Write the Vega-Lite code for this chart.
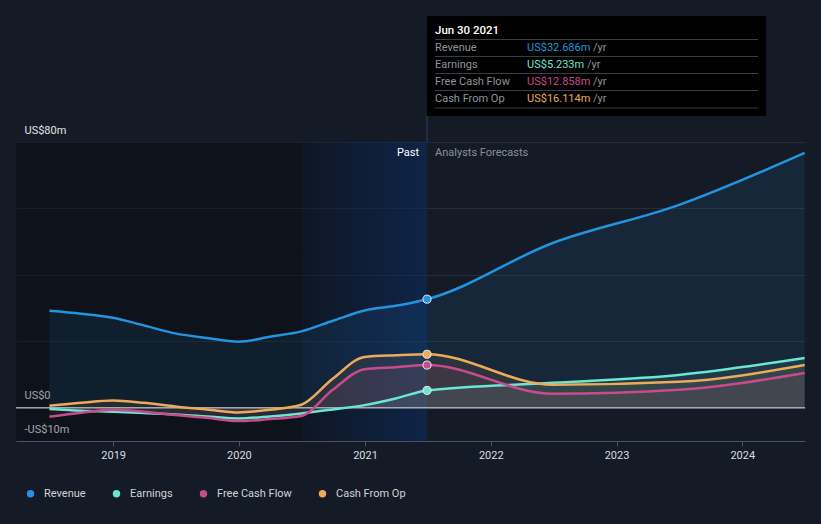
{
  "$schema": "https://vega.github.io/schema/vega-lite/v6.json",
  "width": 789,
  "height": 299,
  "autosize": {"type": "none"},
  "padding": {"left": 16, "top": 142, "right": 16, "bottom": 83},
  "background": "#151b26",
  "config": {
    "view": {"stroke": null},
    "font": "Roboto",
    "axis": {"title": null},
    "axisX": {
      "labelColor": "#d9dce0", "labelFontSize": 11, "tickColor": "#4a5160", "domainColor": "#4a5160",
      "tickSize": 5, "labelPadding": 3, "grid": false, "format": "%Y", "tickCount": {"interval": "year", "step": 1}
    },
    "axisY": {
      "domain": false, "ticks": false, "tickSize": 0, "grid": true, "gridColor": "#262d39", "gridWidth": 1,
      "labelAlign": "left", "labelBaseline": "alphabetic", "labelPadding": -8, "labelOffset": -9,
      "labelColor": "#e2e4e8", "labelFontSize": 11
    }
  },
  "datasets": {
    "fin": [
      {"date": "2018-06-30", "series": "Revenue", "value": 29.2},
      {"date": "2018-09-30", "series": "Revenue", "value": 28.3},
      {"date": "2018-12-31", "series": "Revenue", "value": 27.1},
      {"date": "2019-03-31", "series": "Revenue", "value": 24.8},
      {"date": "2019-06-30", "series": "Revenue", "value": 22.4},
      {"date": "2019-09-30", "series": "Revenue", "value": 21.0},
      {"date": "2019-12-31", "series": "Revenue", "value": 19.9},
      {"date": "2020-03-31", "series": "Revenue", "value": 21.4},
      {"date": "2020-06-30", "series": "Revenue", "value": 23.0},
      {"date": "2020-09-30", "series": "Revenue", "value": 26.2},
      {"date": "2020-12-31", "series": "Revenue", "value": 29.3},
      {"date": "2021-03-31", "series": "Revenue", "value": 30.7},
      {"date": "2021-06-30", "series": "Revenue", "value": 32.686},
      {"date": "2022-06-30", "series": "Revenue", "value": 49.6},
      {"date": "2023-06-30", "series": "Revenue", "value": 61.0},
      {"date": "2024-06-30", "series": "Revenue", "value": 76.7},
      {"date": "2018-06-30", "series": "Earnings", "value": -0.4},
      {"date": "2018-09-30", "series": "Earnings", "value": -0.9},
      {"date": "2018-12-31", "series": "Earnings", "value": -1.2},
      {"date": "2019-03-31", "series": "Earnings", "value": -1.6},
      {"date": "2019-06-30", "series": "Earnings", "value": -2.0},
      {"date": "2019-09-30", "series": "Earnings", "value": -2.6},
      {"date": "2019-12-31", "series": "Earnings", "value": -3.2},
      {"date": "2020-03-31", "series": "Earnings", "value": -2.6},
      {"date": "2020-06-30", "series": "Earnings", "value": -1.7},
      {"date": "2020-09-30", "series": "Earnings", "value": -0.5},
      {"date": "2020-12-31", "series": "Earnings", "value": 0.8},
      {"date": "2021-03-31", "series": "Earnings", "value": 2.8},
      {"date": "2021-06-30", "series": "Earnings", "value": 5.233},
      {"date": "2022-06-30", "series": "Earnings", "value": 7.5},
      {"date": "2023-06-30", "series": "Earnings", "value": 9.9},
      {"date": "2024-06-30", "series": "Earnings", "value": 15.0},
      {"date": "2018-06-30", "series": "Free Cash Flow", "value": -2.7},
      {"date": "2018-09-30", "series": "Free Cash Flow", "value": -1.5},
      {"date": "2018-12-31", "series": "Free Cash Flow", "value": -0.6},
      {"date": "2019-03-31", "series": "Free Cash Flow", "value": -1.2},
      {"date": "2019-06-30", "series": "Free Cash Flow", "value": -2.2},
      {"date": "2019-09-30", "series": "Free Cash Flow", "value": -3.0},
      {"date": "2019-12-31", "series": "Free Cash Flow", "value": -4.0},
      {"date": "2020-03-31", "series": "Free Cash Flow", "value": -3.4},
      {"date": "2020-06-30", "series": "Free Cash Flow", "value": -2.5},
      {"date": "2020-09-30", "series": "Free Cash Flow", "value": 5.5},
      {"date": "2020-12-31", "series": "Free Cash Flow", "value": 11.6},
      {"date": "2021-03-31", "series": "Free Cash Flow", "value": 12.2},
      {"date": "2021-06-30", "series": "Free Cash Flow", "value": 12.858},
      {"date": "2022-06-30", "series": "Free Cash Flow", "value": 4.2},
      {"date": "2023-06-30", "series": "Free Cash Flow", "value": 5.4},
      {"date": "2024-06-30", "series": "Free Cash Flow", "value": 10.5},
      {"date": "2018-06-30", "series": "Cash From Op", "value": 0.6},
      {"date": "2018-09-30", "series": "Cash From Op", "value": 1.5},
      {"date": "2018-12-31", "series": "Cash From Op", "value": 2.2},
      {"date": "2019-03-31", "series": "Cash From Op", "value": 1.5},
      {"date": "2019-06-30", "series": "Cash From Op", "value": 0.4},
      {"date": "2019-09-30", "series": "Cash From Op", "value": -0.5},
      {"date": "2019-12-31", "series": "Cash From Op", "value": -1.4},
      {"date": "2020-03-31", "series": "Cash From Op", "value": -0.6},
      {"date": "2020-06-30", "series": "Cash From Op", "value": 0.9},
      {"date": "2020-09-30", "series": "Cash From Op", "value": 8.8},
      {"date": "2020-12-31", "series": "Cash From Op", "value": 15.3},
      {"date": "2021-03-31", "series": "Cash From Op", "value": 15.8},
      {"date": "2021-06-30", "series": "Cash From Op", "value": 16.114},
      {"date": "2022-06-30", "series": "Cash From Op", "value": 6.9},
      {"date": "2023-06-30", "series": "Cash From Op", "value": 7.8},
      {"date": "2024-06-30", "series": "Cash From Op", "value": 12.9}
    ],
    "tip": [
      {"series": "Revenue", "value": "US$32.686m"},
      {"series": "Earnings", "value": "US$5.233m"},
      {"series": "Free Cash Flow", "value": "US$12.858m"},
      {"series": "Cash From Op", "value": "US$16.114m"}
    ]
  },
  "layer": [
    {
      "layer": [
        {
          "data": {"values": [{}]},
          "mark": {"type": "rect", "color": "#000000", "opacity": 0.3},
          "encoding": {
            "x": {"datum": {"year": 2018, "month": 3, "date": 25}, "type": "temporal"},
            "x2": {"datum": {"year": 2021, "month": 6, "date": 30}},
            "y": {"datum": 80, "type": "quantitative"},
            "y2": {"datum": -10}
          }
        },
        {
          "data": {"values": [{}]},
          "mark": {
            "type": "rect",
            "color": {"gradient": "linear", "x1": 0, "x2": 1, "y1": 0, "y2": 0,
              "stops": [{"offset": 0, "color": "rgba(20,70,150,0.08)"}, {"offset": 1, "color": "rgba(15,65,145,0.38)"}]}
          },
          "encoding": {
            "x": {"datum": {"year": 2020, "month": 6, "date": 30}, "type": "temporal"},
            "x2": {"datum": {"year": 2021, "month": 6, "date": 30}},
            "y": {"datum": 80, "type": "quantitative"},
            "y2": {"datum": -10}
          }
        },
        {
          "data": {"name": "fin"},
          "mark": {"type": "area", "interpolate": "monotone", "fillOpacity": 0.1},
          "encoding": {
            "x": {"field": "date", "type": "temporal"},
            "y": {"field": "value", "type": "quantitative", "stack": null},
            "y2": {"datum": 0},
            "color": {"field": "series", "type": "nominal"}
          }
        },
        {
          "data": {"values": [{}]},
          "mark": {"type": "rule", "color": "#c4c7cc", "strokeWidth": 1.5, "opacity": 0.8},
          "encoding": {"y": {"datum": 0, "type": "quantitative"}}
        },
        {
          "data": {"name": "fin"},
          "mark": {"type": "line", "interpolate": "monotone", "strokeWidth": 2.5},
          "encoding": {
            "x": {"field": "date", "type": "temporal",
              "scale": {"domain": [{"year": 2018, "month": 3, "date": 25}, {"year": 2024, "month": 7, "date": 1}]}},
            "y": {"field": "value", "type": "quantitative",
              "scale": {"domain": [-10, 80], "nice": false, "zero": false},
              "axis": {"values": [-10, 0, 20, 40, 60, 80],
                "labelExpr": "datum.value == 80 ? 'US$80m' : datum.value == 0 ? 'US$0' : datum.value == -10 ? '-US$10m' : ''"}},
            "color": {"field": "series", "type": "nominal",
              "scale": {"domain": ["Revenue", "Earnings", "Free Cash Flow", "Cash From Op"],
                "range": ["#2394df", "#6ce5d2", "#c84c8b", "#ebab5a"]},
              "legend": {"orient": "none", "legendX": 9, "legendY": 346, "direction": "horizontal", "title": null,
                "symbolType": "circle", "symbolSize": 55, "symbolStrokeWidth": 0, "labelFontSize": 11,
                "labelColor": "#cfd3d8", "columnPadding": 25, "labelOffset": 8, "padding": 0}}
          }
        },
        {
          "data": {"name": "fin"},
          "transform": [{"filter": "utcyear(datum.date) == 2021 && utcmonth(datum.date) == 5"}],
          "mark": {"type": "point", "filled": true, "size": 65, "stroke": "#e8eaee", "strokeWidth": 1, "opacity": 1},
          "encoding": {
            "x": {"field": "date", "type": "temporal"},
            "y": {"field": "value", "type": "quantitative"},
            "color": {"field": "series", "type": "nominal"}
          }
        },
        {
          "data": {"values": [{}]},
          "mark": {"type": "rule", "color": "#2c4263", "strokeWidth": 1, "y2Offset": -26},
          "encoding": {
            "x": {"datum": {"year": 2021, "month": 6, "date": 30}, "type": "temporal"},
            "y": {"datum": 80, "type": "quantitative"},
            "y2": {"datum": 80}
          }
        },
        {
          "data": {"values": [{"t": "Past"}]},
          "mark": {"type": "text", "align": "right", "baseline": "middle", "dx": -8, "dy": 11, "color": "#ffffff", "fontSize": 11},
          "encoding": {
            "x": {"datum": {"year": 2021, "month": 6, "date": 30}, "type": "temporal"},
            "y": {"datum": 80, "type": "quantitative"},
            "text": {"field": "t"}
          }
        },
        {
          "data": {"values": [{"t": "Analysts Forecasts"}]},
          "mark": {"type": "text", "align": "left", "baseline": "middle", "dx": 8, "dy": 11, "color": "#8a8f98", "fontSize": 11},
          "encoding": {
            "x": {"datum": {"year": 2021, "month": 6, "date": 30}, "type": "temporal"},
            "y": {"datum": 80, "type": "quantitative"},
            "text": {"field": "t"}
          }
        }
      ]
    },
    {
      "layer": [
        {
          "data": {"values": [{}]},
          "mark": {"type": "rect", "color": "#000000", "x2Offset": 339, "yOffset": -32, "y2Offset": 17},
          "encoding": {
            "x": {"datum": {"year": 2021, "month": 6, "date": 30}, "type": "temporal"},
            "x2": {"datum": {"year": 2021, "month": 6, "date": 30}},
            "y": {"datum": "Revenue", "type": "nominal", "axis": null,
              "scale": {"type": "point", "domain": ["Revenue", "Earnings", "Free Cash Flow", "Cash From Op"], "range": [-94, -43], "padding": 0}},
            "y2": {"datum": "Cash From Op"}
          }
        },
        {
          "data": {"name": "tip"},
          "mark": {"type": "rule", "color": "#3a3d42", "strokeWidth": 1, "xOffset": 8, "x2Offset": 331, "yOffset": -8.5},
          "encoding": {
            "x": {"datum": {"year": 2021, "month": 6, "date": 30}, "type": "temporal"},
            "x2": {"datum": {"year": 2021, "month": 6, "date": 30}},
            "y": {"field": "series", "type": "nominal", "axis": null}
          }
        },
        {
          "data": {"values": [{}]},
          "mark": {"type": "rule", "color": "#3a3d42", "strokeWidth": 1, "xOffset": 8, "x2Offset": 331, "yOffset": 9},
          "encoding": {
            "x": {"datum": {"year": 2021, "month": 6, "date": 30}, "type": "temporal"},
            "x2": {"datum": {"year": 2021, "month": 6, "date": 30}},
            "y": {"datum": "Cash From Op", "type": "nominal", "axis": null}
          }
        },
        {
          "data": {"values": [{"t": "Jun 30 2021"}]},
          "mark": {"type": "text", "align": "left", "baseline": "middle", "dx": 8, "dy": -17, "color": "#ffffff", "fontSize": 11.5, "fontWeight": 500},
          "encoding": {
            "x": {"datum": {"year": 2021, "month": 6, "date": 30}, "type": "temporal"},
            "y": {"datum": "Revenue", "type": "nominal", "axis": null},
            "text": {"field": "t"}
          }
        },
        {
          "data": {"name": "tip"},
          "mark": {"type": "text", "align": "left", "baseline": "middle", "dx": 8, "color": "#8e949d", "fontSize": 11},
          "encoding": {
            "x": {"datum": {"year": 2021, "month": 6, "date": 30}, "type": "temporal"},
            "y": {"field": "series", "type": "nominal", "axis": null},
            "text": {"field": "series"}
          }
        },
        {
          "data": {"name": "tip"},
          "transform": [{"filter": "datum.series != 'Earnings'"}],
          "mark": {"type": "text", "align": "left", "baseline": "middle", "dx": 166, "color": "#8e949d", "fontSize": 11, "text": "/yr"},
          "encoding": {
            "x": {"datum": {"year": 2021, "month": 6, "date": 30}, "type": "temporal"},
            "y": {"field": "series", "type": "nominal", "axis": null}
          }
        },
        {
          "data": {"name": "tip"},
          "transform": [{"filter": "datum.series == 'Earnings'"}],
          "mark": {"type": "text", "align": "left", "baseline": "middle", "dx": 160, "color": "#8e949d", "fontSize": 11, "text": "/yr"},
          "encoding": {
            "x": {"datum": {"year": 2021, "month": 6, "date": 30}, "type": "temporal"},
            "y": {"field": "series", "type": "nominal", "axis": null}
          }
        },
        {
          "data": {"name": "tip"},
          "mark": {"type": "text", "align": "left", "baseline": "middle", "dx": 100, "fontSize": 11},
          "encoding": {
            "x": {"datum": {"year": 2021, "month": 6, "date": 30}, "type": "temporal"},
            "y": {"field": "series", "type": "nominal", "axis": null},
            "text": {"field": "value"},
            "color": {"field": "series", "type": "nominal"}
          }
        }
      ]
    }
  ],
  "resolve": {"scale": {"y": "independent"}}
}
